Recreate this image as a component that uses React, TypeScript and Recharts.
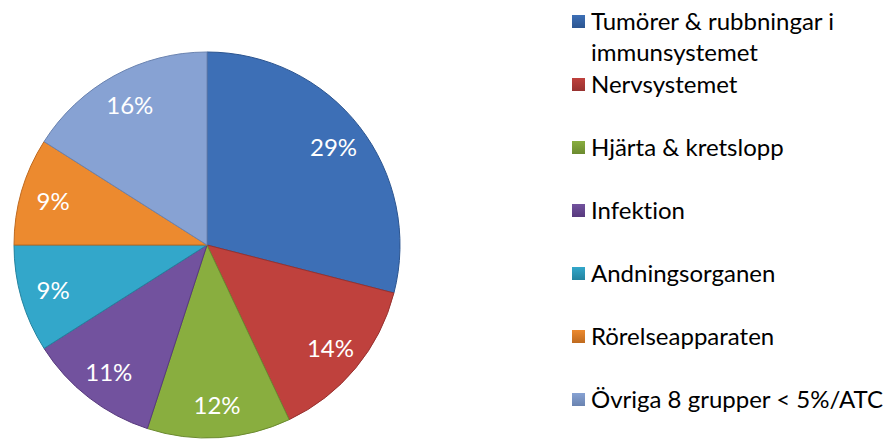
// Andel läkemedel per terapiområde (pie med legend till höger)
import { PieChart, Pie, Cell, Legend } from "recharts";

const categories = [
  "Tumörer & rubbningar i immunsystemet",
  "Nervsystemet",
  "Hjärta & kretslopp",
  "Infektion",
  "Andningsorganen",
  "Rörelseapparaten",
  "Övriga 8 grupper < 5%/ATC",
];
const shares = [29, 14, 12, 11, 9, 9, 16];
const colors = ["#3d6fb6", "#bf413d", "#89ae3f", "#72529e", "#33a7ca", "#ec8a2f", "#87a2d3"];
const edgeColors = ["#2c5590", "#973230", "#6b8a2f", "#57397d", "#24839f", "#bf6a1f", "#6a83b0"];

const data = categories.map((name, i) => ({ name, value: shares[i] }));

const FONT = "Lato, 'Open Sans', sans-serif";
const RADIAN = Math.PI / 180;

function renderLabel(props: any) {
  const { cx, cy, midAngle, outerRadius, value } = props;
  const r = outerRadius * 0.83;
  const x = cx + r * Math.cos(-midAngle * RADIAN);
  const y = cy + r * Math.sin(-midAngle * RADIAN);
  return (
    <text
      x={x}
      y={y}
      fill="#ffffff"
      textAnchor="middle"
      dominantBaseline="central"
      fontFamily={FONT}
      fontSize={24}
    >
      {`${value}%`}
    </text>
  );
}

// legend keeps the data order (recharts would sort it by name)
function LegendList() {
  return (
    <div style={{ position: "relative", width: 315, height: 420, fontFamily: FONT }}>
      {categories.map((name, i) => {
        const top = i === 0 ? 5 : 68 + (i - 1) * 63;
        return (
          <div
            key={name}
            style={{
              position: "absolute",
              top,
              left: 0,
              display: "flex",
              alignItems: "flex-start",
              color: "#000",
              fontSize: 24,
              lineHeight: "31px",
              fontVariantLigatures: "none",
            }}
          >
            <span
              style={{
                display: "inline-block",
                width: 13,
                height: 13,
                marginTop: 10,
                marginRight: 6,
                flex: "none",
                background: `linear-gradient(180deg, ${colors[i]} 0%, ${edgeColors[i]} 100%)`,
              }}
            />
            <span style={{ width: 300 }}>{name}</span>
          </div>
        );
      })}
    </div>
  );
}

export default function App() {
  return (
    <div style={{ position: "absolute", left: 0, top: 0, width: 887, height: 439, background: "#fff" }}>
      <PieChart width={887} height={439} margin={{ top: 0, right: 0, bottom: 0, left: 0 }}>
        <Pie
          data={data}
          dataKey="value"
          nameKey="name"
          cx={207}
          cy={245}
          outerRadius={193}
          startAngle={90}
          endAngle={-270}
          label={renderLabel}
          labelLine={false}
          isAnimationActive={false}
        >
          {data.map((d, i) => (
            <Cell key={d.name} fill={colors[i]} stroke={edgeColors[i]} strokeWidth={1} />
          ))}
        </Pie>
        <Legend
          layout="vertical"
          verticalAlign="top"
          align="right"
          content={<LegendList />}
          wrapperStyle={{ left: 572, top: 0, width: 315 }}
        />
      </PieChart>
    </div>
  );
}
